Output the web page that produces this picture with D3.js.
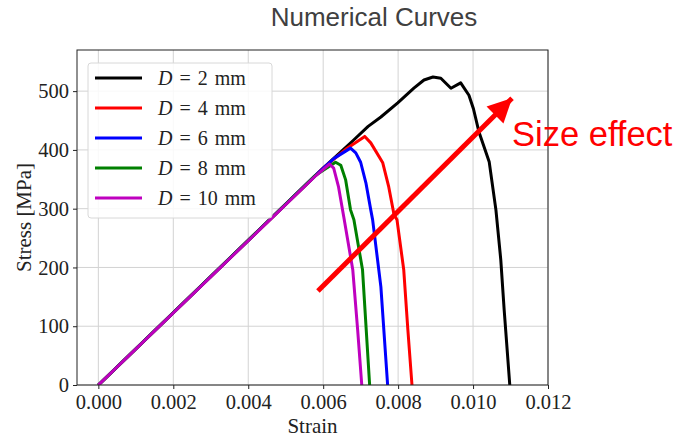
<!DOCTYPE html>
<html>
<head>
<meta charset="utf-8">
<script src="https://cdn.jsdelivr.net/npm/d3@7"></script>
<style>
  html, body { margin: 0; padding: 0; background: #fff; }
  svg { display: block; }
</style>
</head>
<body>
<svg id="chart" width="683" height="437"></svg>
<script>
// Specimen sizes (legend labels) and line colours
const diameters = [2, 4, 6, 8, 10];
const colors = ["#000000", "#ff0000", "#0000ff", "#008000", "#bf00bf"];

// Stress–strain curves [strain, stress in MPa] for each specimen diameter
const curveD2 = [[0, 0], [0.0060, 369], [0.0068, 416], [0.0072, 440], [0.00754, 456], [0.00799, 480],
  [0.00842, 505], [0.00869, 519], [0.00893, 524], [0.00914, 522], [0.00941, 505], [0.00967, 514],
  [0.00989, 493], [0.01001, 470], [0.01016, 430], [0.01043, 380], [0.01061, 298], [0.01074, 213],
  [0.01083, 128], [0.01098, 0]];
const curveD4 = [[0, 0], [0.0060, 369], [0.0066, 401], [0.00711, 423], [0.00727, 412], [0.00759, 378],
  [0.00775, 337], [0.00789, 290], [0.00797, 281], [0.00815, 196], [0.00826, 94], [0.00837, 0]];
const curveD6 = [[0, 0], [0.0058, 357], [0.0063, 386], [0.00673, 403], [0.00687, 395], [0.0070, 379],
  [0.00714, 344], [0.00727, 298], [0.00732, 281], [0.00754, 167], [0.00772, 0]];
const curveD8 = [[0, 0], [0.0058, 357], [0.00633, 379], [0.00647, 374], [0.0066, 349], [0.00673, 298],
  [0.00682, 281], [0.00705, 196], [0.00724, 0]];
const curveD10 = [[0, 0], [0.0058, 356], [0.00617, 376], [0.00628, 369], [0.00641, 337], [0.00655, 286],
  [0.00679, 196], [0.00692, 94], [0.00703, 0]];
const curves = [curveD2, curveD4, curveD6, curveD8, curveD10];

// Axis ticks
const xTicks = [0, 0.002, 0.004, 0.006, 0.008, 0.010, 0.012];
const yTicks = [0, 100, 200, 300, 400, 500];

// Size-effect arrow, in data units: tail and head [strain, stress]
const arrowTail = [0.00586, 160];
const arrowHead = [0.01104, 488];

const svg = d3.select("#chart");
const plot = { left: 77, right: 548, top: 50, bottom: 385 };

const x = d3.scaleLinear().domain([-0.00057, 0.012]).range([plot.left, plot.right]);
const y = d3.scaleLinear().domain([0, 570]).range([plot.bottom, plot.top]);

const serif = "'Liberation Serif', 'Times New Roman', serif";
const sans = "'Liberation Sans', Arial, sans-serif";

// Grid
const grid = svg.append("g").attr("stroke", "#d3d3d3").attr("stroke-width", 1);
grid.selectAll("line.vx").data(xTicks).join("line")
  .attr("x1", d => x(d)).attr("x2", d => x(d))
  .attr("y1", plot.top).attr("y2", plot.bottom);
grid.selectAll("line.hy").data(yTicks).join("line")
  .attr("x1", plot.left).attr("x2", plot.right)
  .attr("y1", d => y(d)).attr("y2", d => y(d));

// Curves
const line = d3.line().x(d => x(d[0])).y(d => y(d[1]));
svg.append("clipPath").attr("id", "plotclip").append("rect")
  .attr("x", plot.left).attr("y", plot.top)
  .attr("width", plot.right - plot.left).attr("height", plot.bottom - plot.top);
svg.append("g").attr("clip-path", "url(#plotclip)")
  .selectAll("path").data(curves).join("path")
  .attr("d", line)
  .attr("fill", "none")
  .attr("stroke", (d, i) => colors[i])
  .attr("stroke-width", 3)
  .attr("stroke-linejoin", "round")
  .attr("stroke-linecap", "butt");

// Frame
svg.append("rect")
  .attr("x", plot.left).attr("y", plot.top)
  .attr("width", plot.right - plot.left).attr("height", plot.bottom - plot.top)
  .attr("fill", "none").attr("stroke", "#222").attr("stroke-width", 1);

// Axes
const xAxis = d3.axisBottom(x).tickValues(xTicks).tickFormat(d3.format(".3f"))
  .tickSize(4).tickPadding(5);
const yAxis = d3.axisLeft(y).tickValues(yTicks).tickFormat(d3.format("d"))
  .tickSize(4).tickPadding(4);

const gx = svg.append("g").attr("transform", `translate(0,${plot.bottom})`).call(xAxis);
const gy = svg.append("g").attr("transform", `translate(${plot.left},0)`).call(yAxis);
[gx, gy].forEach(g => {
  g.select(".domain").remove();
  g.selectAll(".tick line").attr("stroke", "#222");
  g.selectAll(".tick text").attr("fill", "#222")
    .style("font-family", serif).style("font-size", "20.5px");
});

// Axis titles
svg.append("text")
  .attr("x", (plot.left + plot.right) / 2).attr("y", 433)
  .attr("text-anchor", "middle")
  .style("font-family", serif).style("font-size", "21px").attr("fill", "#222")
  .text("Strain");
svg.append("text")
  .attr("transform", `translate(31,${(plot.top + plot.bottom) / 2}) rotate(-90)`)
  .attr("text-anchor", "middle")
  .style("font-family", serif).style("font-size", "21px").attr("fill", "#222")
  .text("Stress [MPa]");

// Legend
const legend = svg.append("g");
legend.append("rect")
  .attr("x", 88).attr("y", 63).attr("width", 184).attr("height", 155)
  .attr("rx", 3).attr("fill", "#fff").attr("fill-opacity", 0.85)
  .attr("stroke", "#d8d8d8").attr("stroke-width", 1);
const rows = legend.selectAll("g.row").data(diameters).join("g")
  .attr("transform", (d, i) => `translate(0,${78 + i * 30})`);
rows.append("line")
  .attr("x1", 95).attr("x2", 142).attr("y1", 0).attr("y2", 0)
  .attr("stroke", (d, i) => colors[i]).attr("stroke-width", 3);
const lt = rows.append("text")
  .attr("x", 158).attr("y", 7)
  .style("font-family", serif).style("font-size", "20px").attr("fill", "#222");
lt.append("tspan").style("font-style", "italic").text("D");
lt.append("tspan").attr("dx", 7).text("=");
lt.append("tspan").attr("dx", 7).text(d => String(d));
lt.append("tspan").attr("dx", 7).text("mm");

// Size-effect arrow
const defs = svg.append("defs");
defs.append("marker")
  .attr("id", "head").attr("viewBox", "0 0 10 10")
  .attr("refX", 10).attr("refY", 5)
  .attr("markerWidth", 4.8).attr("markerHeight", 5.4)
  .attr("markerUnits", "strokeWidth")
  .attr("orient", "auto")
  .append("path").attr("d", "M0,0 L10,5 L0,10 Z").attr("fill", "#ff0000");
svg.append("line")
  .attr("x1", x(arrowTail[0])).attr("y1", y(arrowTail[1]))
  .attr("x2", x(arrowHead[0])).attr("y2", y(arrowHead[1]))
  .attr("stroke", "#ff0000").attr("stroke-width", 5)
  .attr("marker-end", "url(#head)");

svg.append("text")
  .attr("x", 512).attr("y", 146)
  .style("font-family", sans).style("font-size", "34.5px").attr("fill", "#ff0000")
  .text("Size effect");

// Title
svg.append("text")
  .attr("x", 374).attr("y", 26)
  .attr("text-anchor", "middle")
  .style("font-family", sans).style("font-size", "26px").attr("fill", "#404040")
  .text("Numerical Curves");
</script>
</body>
</html>
